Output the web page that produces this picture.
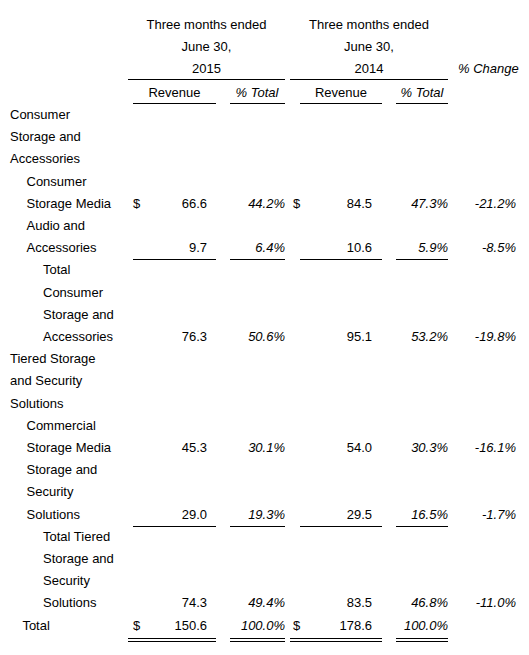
<!DOCTYPE html>
<html><head><meta charset="utf-8">
<script src="https://cdn.jsdelivr.net/npm/chart.js@4.4.0/dist/chart.umd.min.js"></script>
<style>
body{margin:0;background:#fff;font-family:"Liberation Sans",Arial,sans-serif;font-size:13px;color:#000;width:529px;height:655px;overflow:hidden;position:relative}
.t{position:absolute;white-space:nowrap;line-height:16px}
.r{text-align:right}
.i{font-style:italic}
.c{text-align:center}
.ln{position:absolute;height:0;border-top:1px solid #000}
</style></head><body>
<script>
// label lines: [text, indent level]
const labels = [
  ['Consumer',0],['Storage and',0],['Accessories',0],
  ['Consumer',1],['Storage Media',1],['Audio and',1],['Accessories',1],
  ['Total',2],['Consumer',2],['Storage and',2],['Accessories',2],
  ['Tiered Storage',0],['and Security',0],['Solutions',0],
  ['Commercial',1],['Storage Media',1],['Storage and',1],['Security',1],['Solutions',1],
  ['Total Tiered',2],['Storage and',2],['Security',2],['Solutions',2],
  ['Total',0.75]
];
// data rows: line index, values
const rowLine   = [4, 6, 10, 15, 18, 22, 23];
const rev2015   = ['66.6','9.7','76.3','45.3','29.0','74.3','150.6'];
const pct2015   = ['44.2%','6.4%','50.6%','30.1%','19.3%','49.4%','100.0%'];
const rev2014   = ['84.5','10.6','95.1','54.0','29.5','83.5','178.6'];
const pct2014   = ['47.3%','5.9%','53.2%','30.3%','16.5%','46.8%','100.0%'];
const change    = ['-21.2%','-8.5%','-19.8%','-16.1%','-1.7%','-11.0%',''];
const dollarRows = [0, 6];
const underlineRows = [1, 4];

function txt(s, x, y, cls, w){
  const d = document.createElement('div');
  d.className = 't ' + (cls||'');
  d.textContent = s;
  d.style.top = (y - 8) + 'px';
  if (w !== undefined){ d.style.left = (x - w) + 'px'; d.style.width = w + 'px'; }
  else d.style.left = x + 'px';
  document.body.appendChild(d);
}
function line(x1, x2, y){
  const d = document.createElement('div');
  d.className = 'ln';
  d.style.left = x1 + 'px'; d.style.width = (x2 - x1) + 'px'; d.style.top = y + 'px';
  document.body.appendChild(d);
}
// header
[['Three months ended',25],['June 30,',47]].forEach(([s,y])=>{
  txt(s, 285, y, 'c', 157); txt(s, 448, y, 'c', 158);
});
txt('2015', 285, 69, 'c', 157); txt('2014', 448, 69, 'c', 158);
txt('% Change', 458, 69, 'i');
line(128, 285, 79); line(290, 448, 79);
txt('Revenue', 216, 93, 'c', 83); txt('% Total', 285, 93, 'i c', 56);
txt('Revenue', 382, 93, 'c', 82); txt('% Total', 448, 93, 'i c', 52);
line(133, 216, 103); line(230, 285, 103); line(300, 382, 103); line(396, 448, 103);

const y0 = 115, dy = 22.2;
labels.forEach(([s, lvl], i) => txt(s, 10 + lvl * 16.5, y0 + i * dy));
rowLine.forEach((li, k) => {
  const y = y0 + li * dy;
  if (dollarRows.includes(k)){ txt('$', 133, y); txt('$', 293, y); }
  txt(rev2015[k], 207, y, 'r', 60);
  txt(pct2015[k], 285, y, 'i r', 60);
  txt(rev2014[k], 372, y, 'r', 60);
  txt(pct2014[k], 448, y, 'i r', 60);
  if (change[k]) txt(change[k], 516, y, 'i r', 60);
  if (underlineRows.includes(k)){
    line(133, 216, y + 11); line(230, 285, y + 11); line(300, 382, y + 11); line(396, 448, y + 11);
  }
});
const yt = y0 + 23 * dy;
[[128,216],[230,285],[290,382],[396,448]].forEach(([a,b])=>{ line(a,b,yt+12); line(a,b,yt+15); });
</script>
</body></html>
